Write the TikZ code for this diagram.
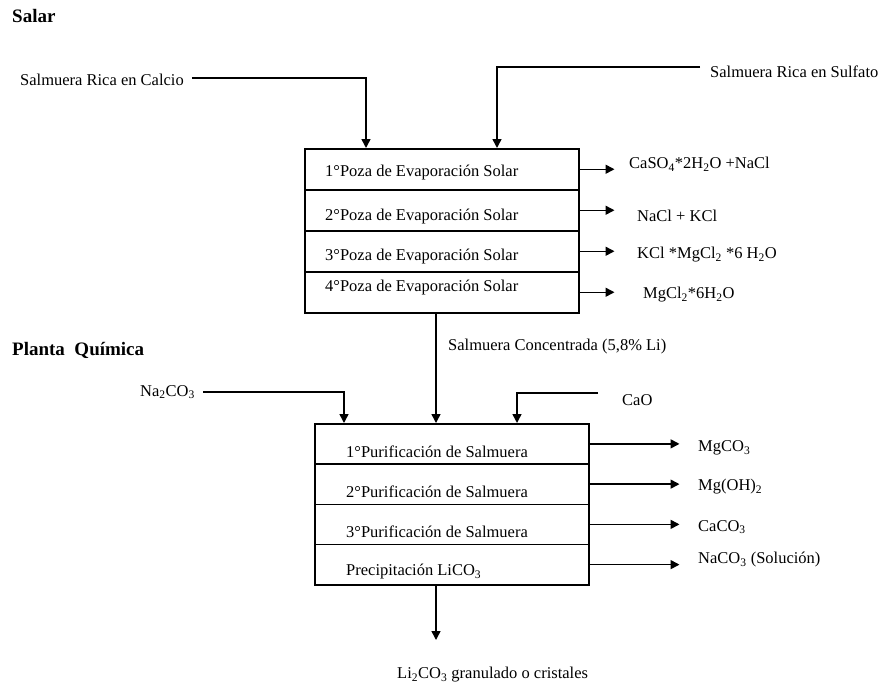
\documentclass[tikz,border=0pt]{standalone}
\usepackage{fontspec}
\setmainfont{Liberation Serif}
\usetikzlibrary{arrows.meta}
\begin{document}
\begin{tikzpicture}[x=1pt,y=-1pt,
  every node/.style={font=\fontsize{16.5}{19}\selectfont, inner sep=0pt},
  title/.style={font=\fontsize{19}{22}\selectfont\bfseries, anchor=west},
  txt/.style={anchor=west},
  rowbox/.style={draw, line width=1.5pt, minimum width=274pt, anchor=north west},
  rowA/.style={rowbox, minimum height=41pt},
  rowB/.style={rowbox, minimum height=40.25pt},
  arr/.style={line width=1.5pt, -{Triangle[length=9pt,width=9pt]}}]
\useasboundingbox (0,0) rectangle (880,685);

% titles
\node[title] (salar) at (12,16) {Salar};
\node[title] (planta) at (12,350) {Planta\ \ Química};

% salar block
\node[rowA] (p1) at (304,148) {};
\node[rowA] (p2) at (304,189) {};
\node[rowA] (p3) at (304,230) {};
\node[rowA] (p4) at (304,271) {};
\node[txt] (tp1) at (325,173) {1°Poza de Evaporación Solar};
\node[txt] (tp2) at (325,217) {2°Poza de Evaporación Solar};
\node[txt] (tp3) at (325,257) {3°Poza de Evaporación Solar};
\node[txt] (tp4) at (325,288) {4°Poza de Evaporación Solar};

\node[txt] (calcio) at (20,80) {Salmuera Rica en Calcio};
\node[txt] (sulfato) at (710,72) {Salmuera Rica en Sulfato};
\coordinate (in1) at (366,148);
\coordinate (in2) at (497,148);
\draw[arr] ([xshift=8pt,yshift=2pt]calcio.east) -| (in1);
\draw[arr] ([xshift=-10pt,yshift=5pt]sulfato.west) -| (in2);

\node[txt] (o1) at (629,164) {CaSO\textsubscript{4}*2H\textsubscript{2}O +NaCl};
\node[txt] (o2) at (637,216) {NaCl + KCl};
\node[txt] (o3) at (637,255) {KCl *MgCl\textsubscript{2} *6 H\textsubscript{2}O};
\node[txt] (o4) at (643,295) {MgCl\textsubscript{2}*6H\textsubscript{2}O};
\draw[arr] (p1.east) -- ++(35,0);
\draw[arr] (p2.east) -- ++(35,0);
\draw[arr] (p3.east) -- ++(35,0);
\draw[arr] (p4.east) -- ++(35,0);

% link
\coordinate (c1) at (436,312);
\coordinate (c2) at (436,423);
\draw[arr] (c1) -- (c2);
\node[txt] (conc) at (448,347) {Salmuera Concentrada (5,8\% Li)};

% planta block
\node[rowB] (q1) at (314,423) {};
\node[rowB] (q2) at (314,463.25) {};
\node[rowB] (q3) at (314,503.5) {};
\node[rowB] (q4) at (314,543.75) {};
\node[txt] (tq1) at (346,452) {1°Purificación de Salmuera};
\node[txt] (tq2) at (346,492) {2°Purificación de Salmuera};
\node[txt] (tq3) at (346,532) {3°Purificación de Salmuera};
\node[txt] (tq4) at (346,572) {Precipitación LiCO\textsubscript{3}};

\node[txt] (na) at (140,392) {Na\textsubscript{2}CO\textsubscript{3}};
\node[txt] (cao) at (622,400) {CaO};
\coordinate (in3) at (344,423);
\coordinate (in4) at (517,423);
\draw[arr] ([xshift=8pt]na.east) -| (in3);
\draw[arr] ([xshift=-24pt,yshift=7pt]cao.west) -| (in4);

\node[txt] (r1) at (698,448) {MgCO\textsubscript{3}};
\node[txt] (r2) at (698,487) {Mg(OH)\textsubscript{2}};
\node[txt] (r3) at (698,527) {CaCO\textsubscript{3}};
\node[txt] (r4) at (698,560) {NaCO\textsubscript{3} (Solución)};
\draw[arr] (q1.east) -- ++(90,0);
\draw[arr] (q2.east) -- ++(90,0);
\draw[arr] (q3.east) -- ++(90,0);
\draw[arr] (q4.east) -- ++(90,0);

\coordinate (c3) at (436,584);
\coordinate (c4) at (436,640);
\draw[arr] (c3) -- (c4);
\node[txt] (prod) at (397,675) {Li\textsubscript{2}CO\textsubscript{3} granulado o cristales};
\end{tikzpicture}
\end{document}
